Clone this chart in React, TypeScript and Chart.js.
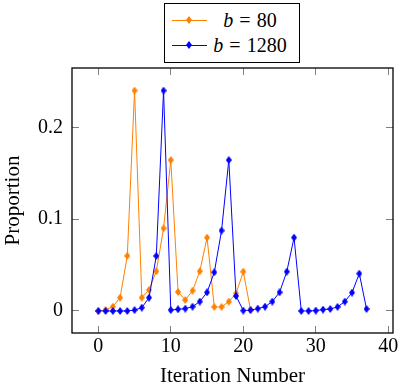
import { useEffect, useRef } from 'react';
import { Chart, registerables } from 'chart.js';

Chart.register(...registerables);

const itersB80 = [0, 1, 2, 3, 4, 5, 6, 7, 8, 9, 10, 11, 12, 13, 14, 15, 16, 17, 18, 19, 20, 21];
const b80Values = [0, 0.001, 0.0047, 0.0145, 0.06, 0.24, 0.0145, 0.0229, 0.0432, 0.09, 0.1644, 0.0207, 0.012, 0.0221, 0.0432, 0.0799, 0.0044, 0.0044, 0.0102, 0.019, 0.0428, 0.001];

const itersB1280 = [0, 1, 2, 3, 4, 5, 6, 7, 8, 9, 10, 11, 12, 13, 14, 15, 16, 17, 18, 19, 20, 21, 22, 23, 24, 25, 26, 27, 28, 29, 30, 31, 32, 33, 34, 35, 36, 37];
const b1280Values = [0, 0, 0, 0, 0, 0.001, 0.0036, 0.0145, 0.0599, 0.24, 0.001, 0.0018, 0.0025, 0.0047, 0.0102, 0.0203, 0.0421, 0.0875, 0.1644, 0.0163, 0.0004, 0.001, 0.0025, 0.0047, 0.0102, 0.0203, 0.0428, 0.0799, 0, 0, 0.0004, 0.0015, 0.0022, 0.0044, 0.0102, 0.02, 0.0407, 0.0022];

const xTicks = [0, 10, 20, 30, 40];
const yTicks = [0, 0.1, 0.2];

const ORANGE = '#ff8000';
const BLUE = '#0000ff';
const FONT = "'Liberation Serif', 'Times New Roman', serif";

function makeDiamond(color: string): HTMLCanvasElement {
  const c = document.createElement('canvas');
  c.width = 6;
  c.height = 8;
  const ctx = c.getContext('2d')!;
  ctx.fillStyle = color;
  ctx.beginPath();
  ctx.moveTo(3, 0);
  ctx.lineTo(6, 4);
  ctx.lineTo(3, 8);
  ctx.lineTo(0, 4);
  ctx.closePath();
  ctx.fill();
  return c;
}

const framePlugin = {
  id: 'pgfFrame',
  afterDatasetsDraw(chart: any) {
    const { ctx, chartArea } = chart;
    const xs = chart.scales.x;
    const ys = chart.scales.y;
    const { left, right, top, bottom } = chartArea;
    ctx.save();
    ctx.strokeStyle = '#808080';
    ctx.lineWidth = 1;
    const tl = 7;
    xTicks.forEach((v) => {
      const p = Math.floor(xs.getPixelForValue(v)) + 0.5;
      ctx.beginPath();
      ctx.moveTo(p, bottom);
      ctx.lineTo(p, bottom - tl);
      ctx.moveTo(p, top);
      ctx.lineTo(p, top + tl);
      ctx.stroke();
    });
    yTicks.forEach((v) => {
      const p = Math.floor(ys.getPixelForValue(v)) + 0.5;
      ctx.beginPath();
      ctx.moveTo(left, p);
      ctx.lineTo(left + tl, p);
      ctx.moveTo(right, p);
      ctx.lineTo(right - tl, p);
      ctx.stroke();
    });
    ctx.strokeStyle = '#000';
    ctx.lineWidth = 1.3;
    ctx.strokeRect(left, top, right - left, bottom - top);
    ctx.restore();
  },
};

function LegendRow({ color, label, top }: { color: string; label: string; top: number }) {
  return (
    <>
      <div style={{ position: 'absolute', left: 172, top: top + 12, width: 35, height: 1, background: color }} />
      <svg style={{ position: 'absolute', left: 186, top: top + 8.5 }} width={6} height={8}>
        <polygon points="3,0 6,4 3,8 0,4" fill={color} />
      </svg>
      <div
        style={{
          position: 'absolute',
          left: 208,
          top,
          width: 84,
          height: 25,
          lineHeight: '25px',
          textAlign: 'center',
          fontFamily: FONT,
          fontSize: 20,
          color: '#000',
          whiteSpace: 'nowrap',
        }}
      >
        <i>b</i>
        <span style={{ margin: '0 0.3em' }}>=</span>
        {label}
      </div>
    </>
  );
}

export default function App() {
  const canvasRef = useRef<HTMLCanvasElement | null>(null);

  useEffect(() => {
    const canvas = canvasRef.current;
    if (!canvas) return;
    const chart = new Chart(canvas, {
      type: 'line',
      data: {
        datasets: [
          {
            label: 'b = 80',
            data: itersB80.map((x, i) => ({ x, y: b80Values[i] })),
            borderColor: ORANGE,
            backgroundColor: ORANGE,
            borderWidth: 1,
            pointStyle: makeDiamond(ORANGE),
            pointRadius: 4,
            tension: 0,
            order: 1,
          },
          {
            label: 'b = 1280',
            data: itersB1280.map((x, i) => ({ x, y: b1280Values[i] })),
            borderColor: BLUE,
            backgroundColor: BLUE,
            borderWidth: 1,
            pointStyle: makeDiamond(BLUE),
            pointRadius: 4,
            tension: 0,
            order: 0,
          },
        ],
      },
      options: {
        animation: false,
        responsive: true,
        maintainAspectRatio: false,
        layout: { padding: { top: 68, right: 9, left: 0, bottom: 0 } },
        plugins: {
          legend: { display: false },
          tooltip: { enabled: false },
        },
        scales: {
          x: {
            type: 'linear',
            min: -3.63,
            max: 40.65,
            afterFit: (s: any) => {
              s.height = 55;
            },
            afterBuildTicks: (s: any) => {
              s.ticks = xTicks.map((v) => ({ value: v }));
            },
            grid: { display: false, drawTicks: false },
            border: { display: false },
            ticks: {
              padding: 2,
              color: '#000',
              font: { family: FONT, size: 20 },
              maxRotation: 0,
              autoSkip: false,
              callback: (v: any) => String(v),
            },
            title: {
              display: true,
              text: 'Iteration Number',
              color: '#000',
              font: { family: FONT, size: 21 },
              padding: { top: 0, bottom: -1 },
            },
          },
          y: {
            type: 'linear',
            min: -0.024,
            max: 0.2646,
            afterFit: (s: any) => {
              s.width = 72;
            },
            afterBuildTicks: (s: any) => {
              s.ticks = yTicks.map((v) => ({ value: v }));
            },
            grid: { display: false, drawTicks: false },
            border: { display: false },
            ticks: {
              padding: 9,
              color: '#000',
              font: { family: FONT, size: 20 },
              autoSkip: false,
              callback: (v: any) => (v === 0 ? '0' : String(Math.round(v * 10) / 10)),
            },
            title: {
              display: true,
              text: 'Proportion',
              color: '#000',
              font: { family: FONT, size: 21 },
              padding: { top: 0.7, bottom: 0 },
            },
          },
        },
      },
      plugins: [framePlugin],
    });
    return () => chart.destroy();
  }, []);

  return (
    <div style={{ position: 'absolute', left: 0, top: 0, width: 402, height: 388, background: '#fff' }}>
      <canvas ref={canvasRef} />
      <div
        style={{
          position: 'absolute',
          left: 164,
          top: 3,
          width: 134,
          height: 58,
          border: '1.3px solid #000',
          background: '#fff',
        }}
      />
      <LegendRow color={ORANGE} label="80" top={7.5} />
      <LegendRow color={BLUE} label="1280" top={32.5} />
    </div>
  );
}
